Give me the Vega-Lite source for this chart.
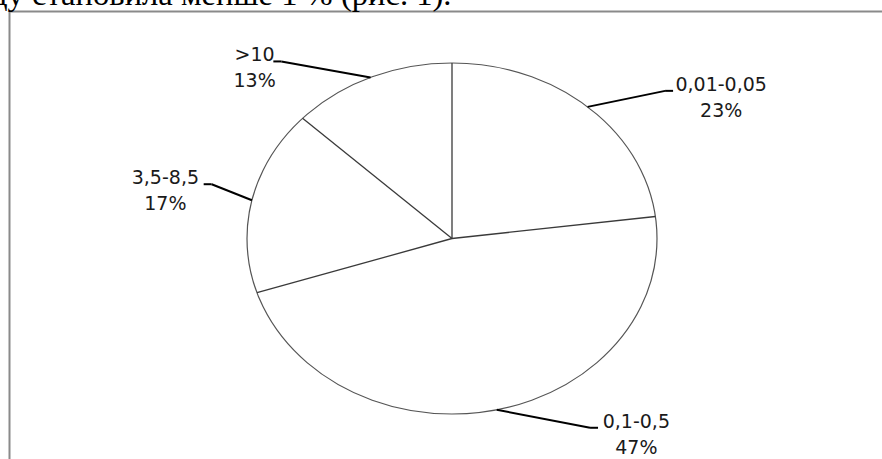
{
  "$schema": "https://vega.github.io/schema/vega-lite/v6.json",
  "width": 873,
  "height": 448,
  "autosize": {"type": "none"},
  "padding": {"left": 9, "top": 11, "right": 0, "bottom": 0},
  "background": "white",
  "title": {
    "text": "ду становила менше 1 % (рис. 1).",
    "anchor": "start",
    "orient": "top",
    "frame": "group",
    "font": "Liberation Serif",
    "fontSize": 32.6,
    "fontWeight": "normal",
    "color": "#000000",
    "baseline": "alphabetic",
    "offset": 0,
    "dx": -18,
    "dy": 27,
    "zindex": 0
  },
  "config": {"view": {"stroke": "transparent", "strokeWidth": 0, "fill": "#ffffff"}},
  "data": {
    "values": [
      {"category": "0,01-0,05", "percent": 23, "order": 1},
      {"category": "0,1-0,5", "percent": 47, "order": 2},
      {"category": "3,5-8,5", "percent": 17, "order": 3},
      {"category": ">10", "percent": 13, "order": 4}
    ]
  },
  "transform": [
    {"window": [{"op": "sum", "field": "percent", "as": "cum"}], "sort": [{"field": "order", "order": "ascending"}], "frame": [null, 0]},
    {"joinaggregate": [{"op": "sum", "field": "percent", "as": "total"}]},
    {"calculate": "2*PI*datum.cum/datum.total", "as": "endAngle"},
    {"calculate": "2*PI*(datum.cum - datum.percent/2)/datum.total", "as": "midAngle"},
    {"calculate": "0", "as": "cx"},
    {"calculate": "205*sin(datum.endAngle)", "as": "bx"},
    {"calculate": "175.5*cos(datum.endAngle)", "as": "by"},
    {"calculate": "205*sin(datum.midAngle)", "as": "sx"},
    {"calculate": "175.5*cos(datum.midAngle)", "as": "sy"},
    {"calculate": "datum.sx >= 0 ? 1 : -1", "as": "side"},
    {"calculate": "datum.sx + datum.side*(25 + 70*abs(cos(datum.midAngle)))", "as": "px"},
    {"calculate": "datum.sy + (datum.sy >= 0 ? 16 : -18)", "as": "py"},
    {"calculate": "datum.px + 8*datum.side", "as": "hx"},
    {"calculate": "datum.px + datum.side*(12 + length(datum.category)*4.9)", "as": "tx"},
    {"calculate": "datum.py + 6", "as": "ty1"},
    {"calculate": "datum.py - 20", "as": "ty2"},
    {"calculate": "datum.percent + '%'", "as": "pctLabel"}
  ],
  "layer": [
    {
      "transform": [{"filter": "datum.order == 1"}],
      "mark": {
        "type": "point",
        "shape": "M1,0C1,0.4728,0.5523,0.856,0,0.856C-0.5523,0.856,-1,0.4728,-1,0C-1,-0.4728,-0.5523,-0.856,0,-0.856C0.5523,-0.856,1,-0.4728,1,0Z",
        "size": 168100,
        "filled": true,
        "fill": "#ffffff",
        "stroke": "#555555",
        "strokeWidth": 1.2,
        "opacity": 1,
        "fillOpacity": 1,
        "strokeOpacity": 1
      },
      "encoding": {
        "x": {"field": "cx", "type": "quantitative", "scale": {"domain": [-443, 430], "nice": false, "zero": false}, "axis": {"orient": "top", "domain": true, "domainColor": "#8a8a8a", "domainWidth": 2, "ticks": false, "labels": false, "grid": false, "title": null}},
        "y": {"field": "cx", "type": "quantitative", "scale": {"domain": [-220.5, 227.5], "nice": false, "zero": false}, "axis": {"orient": "left", "domain": true, "domainColor": "#8a8a8a", "domainWidth": 2, "ticks": false, "labels": false, "grid": false, "title": null}}
      }
    },
    {
      "mark": {"type": "rule", "color": "#3a3a3a", "strokeWidth": 1.3},
      "encoding": {
        "x": {"field": "cx", "type": "quantitative"},
        "y": {"field": "cx", "type": "quantitative"},
        "x2": {"field": "bx"},
        "y2": {"field": "by"}
      }
    },
    {
      "mark": {"type": "rule", "color": "#000000", "strokeWidth": 2},
      "encoding": {
        "x": {"field": "sx", "type": "quantitative"},
        "y": {"field": "sy", "type": "quantitative"},
        "x2": {"field": "px"},
        "y2": {"field": "py"}
      }
    },
    {
      "mark": {"type": "rule", "color": "#000000", "strokeWidth": 2},
      "encoding": {
        "x": {"field": "px", "type": "quantitative"},
        "y": {"field": "py", "type": "quantitative"},
        "x2": {"field": "hx"},
        "y2": {"field": "py"}
      }
    },
    {
      "mark": {"type": "text", "font": "DejaVu Sans", "fontSize": 19, "color": "#1a1a1a", "align": "center", "baseline": "middle"},
      "encoding": {
        "x": {"field": "tx", "type": "quantitative"},
        "y": {"field": "ty1", "type": "quantitative"},
        "text": {"field": "category"}
      }
    },
    {
      "mark": {"type": "text", "font": "DejaVu Sans", "fontSize": 19, "color": "#1a1a1a", "align": "center", "baseline": "middle"},
      "encoding": {
        "x": {"field": "tx", "type": "quantitative"},
        "y": {"field": "ty2", "type": "quantitative"},
        "text": {"field": "pctLabel"}
      }
    }
  ]
}
